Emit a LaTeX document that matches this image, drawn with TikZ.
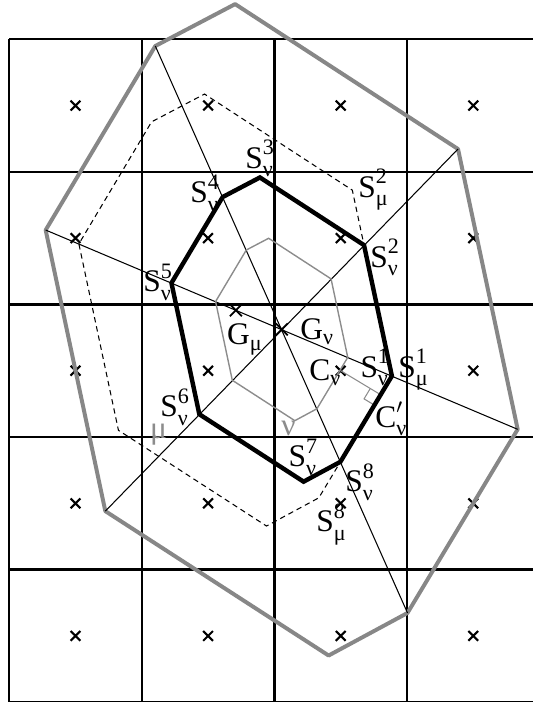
\documentclass[tikz,border=0pt]{standalone}
\usepackage{amsmath}
\usepackage{fontspec}
\setmainfont{Liberation Serif}
\usetikzlibrary{calc, shapes.misc}
\definecolor{hullgray}{gray}{0.53}
\definecolor{coregray}{gray}{0.55}
\tikzset{
    gridline/.style={black, line width=1pt},
    cellmark/.style={cross out, draw=black, line width=0.9pt, minimum size=3.3pt, inner sep=0pt},
    centremark/.style={cross out, draw=black, line width=0.75pt, minimum size=4.4pt, inner sep=0pt},
    hull/.style={draw=hullgray, line width=1.7pt, line join=round},
    diag/.style={black, line width=0.45pt},
    mucell/.style={black, line width=0.45pt, dash pattern=on 2.3pt off 1.7pt},
    nucell/.style={black, line width=1.9pt, line join=miter},
    core/.style={draw=coregray, line width=0.6pt},
    lbl/.style={anchor=base west, inner sep=0pt, font=\fontsize{13.5}{15}\selectfont}
}
\newcommand{\vtx}[3]{$\text{#1}^{\text{#2}}_{\text{#3}}$}

\begin{document}
\begin{tikzpicture}[scale=2]
    \useasboundingbox (-0.0694,0.0015) rectangle (3.950,5.296);
    \clip (-0.0694,0.0015) rectangle (3.950,5.296);

    % Grid of cells with their centres
    \draw[gridline] (0,0) grid (4,5);
    \foreach \i in {0,...,3}
        \foreach \j in {0,...,4}
            \node[cellmark] (m\i\j) at (\i+0.5, \j+0.5) {};

    % Outer hull
    \coordinate (Or)  at (3.835, 2.058);
    \coordinate (Our) at (3.385, 4.172);
    \coordinate (Ot)  at (1.704, 5.265);
    \coordinate (Oul) at (1.102, 4.949);
    \coordinate (Ol)  at (0.275, 3.561);
    \coordinate (Oll) at (0.725, 1.441);
    \coordinate (Ob)  at (2.409, 0.352);
    \coordinate (Olr) at (3.004, 0.673);
    \coordinate (Gn)  at (2.055, 2.812);
    \coordinate (Gm)  at (1.710, 2.956);
    \coordinate (Cn)  at (2.5, 2.5);

    \foreach \o [count=\k] in {Or,Our,Ot,Oul,Ol,Oll,Ob,Olr} {
        \coordinate (S\k) at ($(Gn)!0.467!(\o)$);
        \coordinate (I\k) at ($(Gn)!0.28!(\o)$);
    }
    \foreach \k in {1,...,8}
        \coordinate (M\k) at ($(S1)!1.42!(S\k)$);

    \draw[hull] (Or) -- (Our) -- (Ot) -- (Oul) -- (Ol) -- (Oll) -- (Ob) -- (Olr) -- cycle;
    \draw[diag] (Ol) -- (Or) (Oul) -- (Olr) (Oll) -- (Our);

    % Cell of mu (dashed) and core of nu (grey)
    \draw[mucell] (M1) -- (M2) -- (M3) -- (M4) -- (M5) -- (M6) -- (M7) -- (M8) -- cycle;
    \draw[core] (I1) -- (I2) -- (I3) -- (I4) -- (I5) -- (I6) -- (I7) -- (I8) -- cycle;

    % Foot of the perpendicular from C
    \coordinate (Cp) at ($(S8)!(Cn)!(S1)$);
    \coordinate (ra) at ($(Cp)!2.6pt!(Cn)$);
    \coordinate (rb) at ($(Cp)!2.6pt!(S8)$);
    \draw[core, line width=0.45pt] (Cn) -- (Cp);
    \draw[core, line width=0.45pt] (ra) -- ($(ra)+(rb)-(Cp)$) -- (rb);

    % Cell of nu
    \draw[nucell] (S1) -- (S2) -- (S3) -- (S4) -- (S5) -- (S6) -- (S7) -- (S8) -- cycle;

    \node[centremark] (gm) at (Gm) {};
    \node[centremark] (gn) at (Gn) {};

    % Labels
    \node[lbl] (l3) at (1.778, 4.028) {\vtx{S}{3}{ν}};
    \node[lbl] (l4) at (1.363, 3.765) {\vtx{S}{4}{ν}};
    \node[lbl] (lm2) at (2.630, 3.810) {\vtx{S}{2}{μ}};
    \node[lbl] (l2) at (2.721, 3.282) {\vtx{S}{2}{ν}};
    \node[lbl] (l5) at (1.009, 3.094) {\vtx{S}{5}{ν}};
    \node[lbl] (lgm) at (1.640, 2.694) {$\text{G}_{\text{μ}}$};
    \node[lbl] (lgn) at (2.193, 2.732) {$\text{G}_{\text{ν}}$};
    \node[lbl] (lc) at (2.261, 2.430) {$\text{C}_{\text{ν}}$};
    \node[lbl] (l1) at (2.646, 2.452) {\vtx{S}{1}{ν}};
    \node[lbl] (lm1) at (2.932, 2.452) {\vtx{S}{1}{μ}};
    \node[lbl] (lcp) at (2.759, 2.075) {$\text{C}'_{\text{ν}}$};
    \node[lbl] (l6) at (1.137, 2.153) {\vtx{S}{6}{ν}};
    \node[lbl, text=coregray] (lmu) at (1.060, 1.990) {μ};
    \node[lbl, text=coregray] (lnu) at (2.050, 2.015) {ν};
    \node[lbl] (l7) at (2.103, 1.774) {\vtx{S}{7}{ν}};
    \node[lbl] (l8) at (2.532, 1.587) {\vtx{S}{8}{ν}};
    \node[lbl] (lm8) at (2.314, 1.284) {\vtx{S}{8}{μ}};
\end{tikzpicture}
\end{document}
